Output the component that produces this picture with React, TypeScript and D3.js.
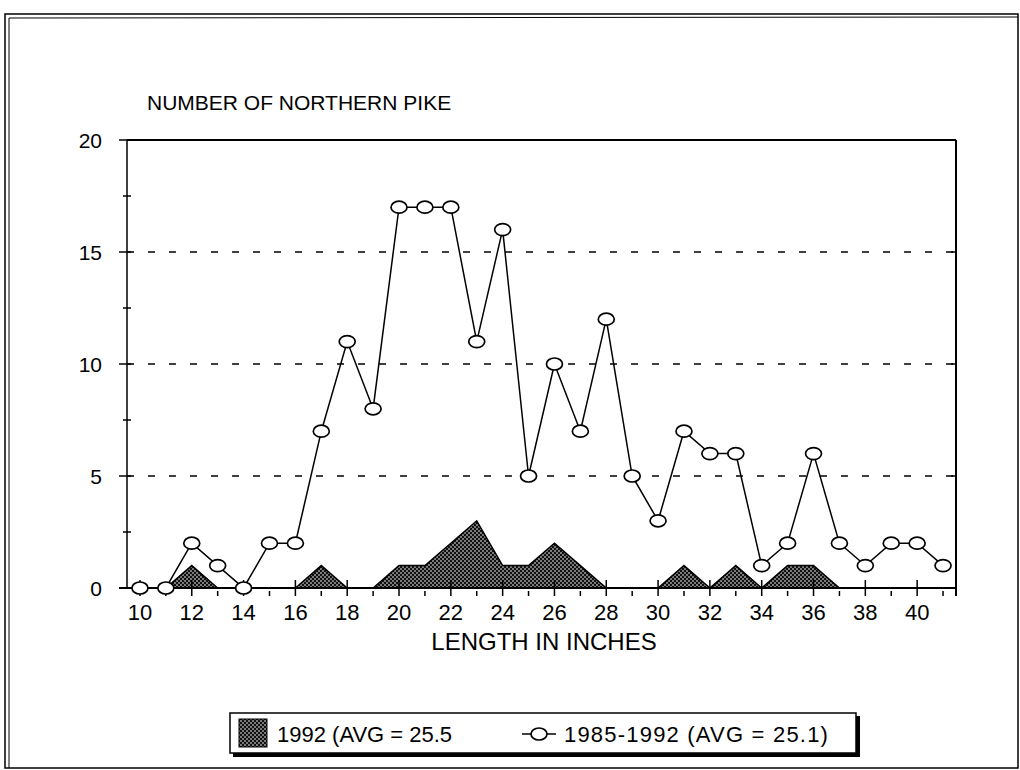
import React, { useRef, useEffect } from 'react';
import * as d3 from 'd3';

const lengths = [10, 11, 12, 13, 14, 15, 16, 17, 18, 19, 20, 21, 22, 23, 24, 25, 26, 27, 28, 29, 30, 31, 32, 33, 34, 35, 36, 37, 38, 39, 40, 41];
const counts8592 = [0, 0, 2, 1, 0, 2, 2, 7, 11, 8, 17, 17, 17, 11, 16, 5, 10, 7, 12, 5, 3, 7, 6, 6, 1, 2, 6, 2, 1, 2, 2, 1];
const counts92 = [0, 0, 1, 0, 0, 0, 0, 1, 0, 0, 1, 1, 2, 3, 1, 1, 2, 1, 0, 0, 0, 1, 0, 1, 0, 1, 1, 0, 0, 0, 0, 0];
const xTickLabels = [10, 12, 14, 16, 18, 20, 22, 24, 26, 28, 30, 32, 34, 36, 38, 40];
const yTickLabels = [0, 5, 10, 15, 20];
const gridValues = [5, 10, 15];

const FONT = 'Liberation Sans, Arial, Helvetica, sans-serif';

const App: React.FC = () => {
  const svgRef = useRef<SVGSVGElement | null>(null);

  useEffect(() => {
    if (!svgRef.current) return;
    const svg = d3.select(svgRef.current);
    svg.selectAll('*').remove();

    const x = d3.scaleLinear().domain([9.5, 41.5]).range([127, 956]);
    const y = d3.scaleLinear().domain([0, 20]).range([588, 140]);

    // stipple pattern for the 1992 area
    const defs = svg.append('defs');
    const pat = defs.append('pattern')
      .attr('id', 'stipple')
      .attr('width', 4)
      .attr('height', 4)
      .attr('patternUnits', 'userSpaceOnUse');
    pat.append('rect').attr('width', 4).attr('height', 4).attr('fill', '#111');
    pat.append('circle').attr('cx', 1).attr('cy', 1).attr('r', 0.8).attr('fill', '#fff');
    pat.append('circle').attr('cx', 3).attr('cy', 3).attr('r', 0.8).attr('fill', '#fff');

    // page frame
    const frame = svg.append('g').attr('fill', 'none').attr('stroke', '#000');
    frame.append('rect').attr('x', 5).attr('y', 14).attr('width', 1013).attr('height', 754).attr('stroke-width', 1.5);
    frame.append('line').attr('x1', 9).attr('x2', 9).attr('y1', 18).attr('y2', 768).attr('stroke-width', 1);
    frame.append('line').attr('x1', 9).attr('x2', 1018).attr('y1', 18).attr('y2', 17).attr('stroke-width', 1);

    // title
    svg.append('text')
      .attr('x', 147).attr('y', 110)
      .attr('font-family', FONT).attr('font-size', 21)
      .text('NUMBER OF NORTHERN PIKE');

    // gridlines
    svg.append('g').selectAll('line')
      .data(gridValues)
      .enter().append('line')
      .attr('x1', x(9.5)).attr('x2', x(41.5))
      .attr('y1', d => y(d)).attr('y2', d => y(d))
      .attr('stroke', '#000').attr('stroke-width', 1.5)
      .attr('stroke-dasharray', '7,14');

    // 1992 area
    const area = d3.area<number>()
      .x((_, i) => x(lengths[i]))
      .y0(y(0))
      .y1(d => y(d));
    svg.append('path')
      .datum(counts92)
      .attr('d', area)
      .attr('fill', 'url(#stipple)')
      .attr('stroke', '#000')
      .attr('stroke-width', 1.5);

    // frame of the plot: top, left, right, bottom
    const axes = svg.append('g').attr('stroke', '#000').attr('fill', 'none');
    axes.append('line').attr('x1', x(9.5)).attr('x2', x(41.5)).attr('y1', y(20)).attr('y2', y(20)).attr('stroke-width', 2);
    axes.append('line').attr('x1', x(9.5)).attr('x2', x(9.5)).attr('y1', y(20)).attr('y2', y(0)).attr('stroke-width', 1.5);
    axes.append('line').attr('x1', x(41.5)).attr('x2', x(41.5)).attr('y1', y(20)).attr('y2', y(0) + 8).attr('stroke-width', 2);
    axes.append('line').attr('x1', x(9.5) - 8).attr('x2', x(41.5)).attr('y1', y(0)).attr('y2', y(0)).attr('stroke-width', 2);

    // y ticks
    const yMinor = d3.range(0, 20.01, 2.5);
    axes.selectAll('line.ytick')
      .data(yMinor)
      .enter().append('line')
      .attr('class', 'ytick')
      .attr('x1', d => (d % 5 === 0 ? x(9.5) - 8 : x(9.5) - 4))
      .attr('x2', x(9.5) + 4)
      .attr('y1', d => y(d)).attr('y2', d => y(d))
      .attr('stroke-width', 1.5);
    axes.selectAll('line.ytickr')
      .data(yTickLabels)
      .enter().append('line')
      .attr('class', 'ytickr')
      .attr('x1', x(41.5) - 5).attr('x2', x(41.5))
      .attr('y1', d => y(d)).attr('y2', d => y(d))
      .attr('stroke-width', 1.5);

    // x ticks
    axes.selectAll('line.xtick')
      .data(lengths)
      .enter().append('line')
      .attr('class', 'xtick')
      .attr('x1', d => x(d)).attr('x2', d => x(d))
      .attr('y1', d => (d % 2 === 0 ? y(0) - 8 : y(0) + 3))
      .attr('y2', y(0) + 8)
      .attr('stroke-width', 1.5);

    svg.append('g').selectAll('text')
      .data(yTickLabels)
      .enter().append('text')
      .attr('x', 102).attr('y', d => y(d) + 7.5)
      .attr('text-anchor', 'end')
      .attr('font-family', FONT).attr('font-size', 21)
      .text(d => d);

    svg.append('g').selectAll('text')
      .data(xTickLabels)
      .enter().append('text')
      .attr('x', d => x(d)).attr('y', 620)
      .attr('text-anchor', 'middle')
      .attr('font-family', FONT).attr('font-size', 22)
      .text(d => d);

    svg.append('text')
      .attr('x', 544).attr('y', 650)
      .attr('text-anchor', 'middle')
      .attr('font-family', FONT).attr('font-size', 24)
      .text('LENGTH IN INCHES');

    // 1985-1992 line
    const line = d3.line<number>()
      .x((_, i) => x(lengths[i]))
      .y(d => y(d));
    svg.append('path')
      .datum(counts8592)
      .attr('d', line)
      .attr('fill', 'none')
      .attr('stroke', '#000')
      .attr('stroke-width', 1.5);
    svg.append('g').selectAll('ellipse')
      .data(counts8592)
      .enter().append('ellipse')
      .attr('cx', (_, i) => x(lengths[i]))
      .attr('cy', d => y(d))
      .attr('rx', 8).attr('ry', 6)
      .attr('fill', '#fff')
      .attr('stroke', '#000')
      .attr('stroke-width', 1.7);

    // legend
    const lg = svg.append('g');
    lg.append('rect').attr('x', 233).attr('y', 716).attr('width', 627).attr('height', 41).attr('fill', '#000');
    lg.append('rect').attr('x', 230).attr('y', 713).attr('width', 626).attr('height', 40)
      .attr('fill', '#fff').attr('stroke', '#000').attr('stroke-width', 1.5);
    lg.append('rect').attr('x', 239).attr('y', 719).attr('width', 28).attr('height', 28)
      .attr('fill', 'url(#stipple)').attr('stroke', '#000').attr('stroke-width', 1);
    lg.append('text').attr('x', 277).attr('y', 742)
      .attr('font-family', FONT).attr('font-size', 22)
      .text('1992 (AVG = 25.5');
    lg.append('line').attr('x1', 522).attr('x2', 556).attr('y1', 734).attr('y2', 734)
      .attr('stroke', '#000').attr('stroke-width', 1.5);
    lg.append('ellipse').attr('cx', 539).attr('cy', 734).attr('rx', 8).attr('ry', 6)
      .attr('fill', '#fff').attr('stroke', '#000').attr('stroke-width', 1.7);
    lg.append('text').attr('x', 564).attr('y', 742)
      .attr('font-family', FONT).attr('font-size', 22)
      .attr('letter-spacing', 1.2)
      .text('1985-1992 (AVG = 25.1)');
  }, []);

  return (
    <svg ref={svgRef} width={1020} height={770} style={{ position: 'absolute', left: 0, top: 0, background: '#fff' }} />
  );
};

export default App;
